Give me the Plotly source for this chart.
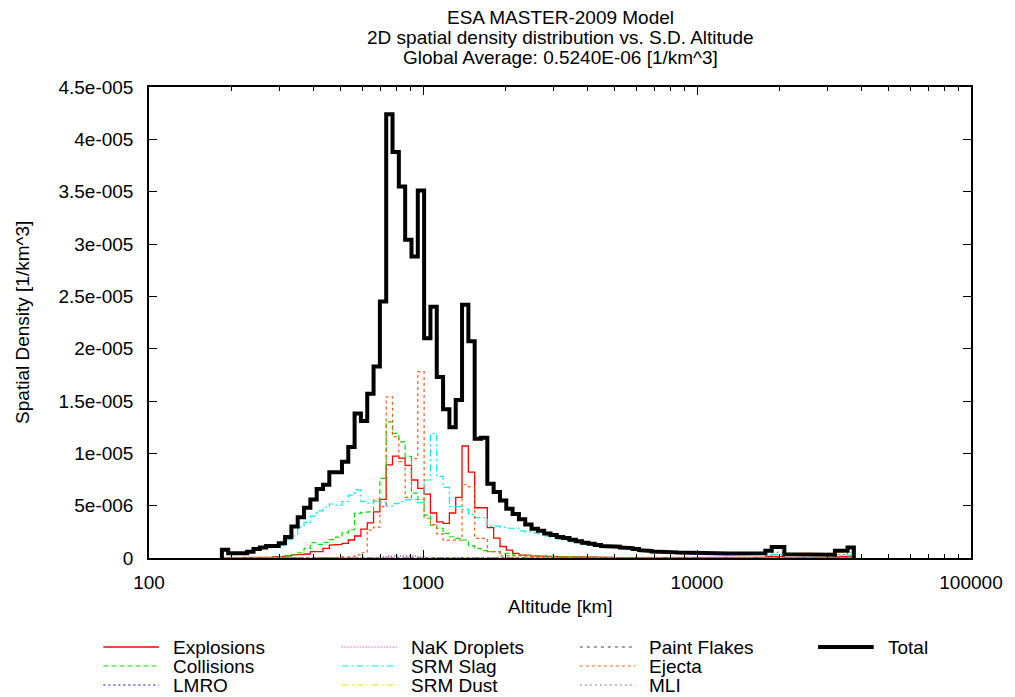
import numpy as np
import plotly.graph_objects as go

# ---------------- data (spatial density in units of 1e-6 per km^3) ----------------
UNIT = 1e-6
ALT_FIRST_EDGE = 184.5      # km, lower edge of first altitude bin
ALT_LAST_EDGE = 37370.0     # km, upper edge of last altitude bin
N_BINS = 100                # log-spaced altitude bins

TOTAL = [
    0.8, 0.45, 0.45, 0.45, 0.6, 0.85, 1.0, 1.15, 1.15, 1.4,
    2.0, 3.0, 3.9, 4.8, 5.6, 6.6, 7.0, 8.2, 8.2, 9.2,
    10.6, 13.8, 13.1, 15.7, 18.3, 24.5, 42.4, 38.8, 35.5, 30.4,
    28.8, 35.1, 21.0, 24.0, 17.3, 14.2, 12.5, 15.1, 24.2, 20.7,
    11.4, 11.5, 7.1, 6.3, 5.5, 4.7, 4.2, 3.7, 3.2, 2.8,
    2.6, 2.35, 2.2, 2.0, 1.9, 1.75, 1.6, 1.45, 1.35, 1.25,
    1.15, 1.1, 1.08, 1.0, 0.95, 0.85, 0.75, 0.68, 0.62, 0.58,
    0.56, 0.54, 0.52, 0.5, 0.5, 0.48, 0.47, 0.46, 0.45, 0.44,
    0.42, 0.41, 0.4, 0.38, 0.38, 0.45, 0.7, 1.05, 1.05, 0.35,
    0.3, 0.3, 0.3, 0.3, 0.3, 0.3, 0.32, 0.7, 0.7, 1.0,
]

EXPLOSIONS = [
    0.02, 0.02, 0.02, 0.02, 0.05, 0.05, 0.05, 0.08, 0.1, 0.15,
    0.2, 0.3, 0.35, 0.38, 0.6, 0.6, 0.92, 1.24, 1.3, 1.4,
    1.72, 2.1, 2.75, 3.35, 4.4, 5.6, 8.9, 9.74, 9.55, 8.85,
    7.45, 6.65, 6.1, 4.3, 3.45, 3.3, 4.3, 5.8, 10.7, 8.2,
    4.8, 4.8, 2.9, 1.9, 1.1, 0.75, 0.45, 0.3, 0.25, 0.2,
    0.17, 0.15, 0.13, 0.12, 0.1, 0.09, 0.08, 0.07, 0.06, 0.05,
    0.05, 0.05, 0.04, 0.04, 0.04, 0.04, 0.03, 0.03, 0.03, 0.03,
    0.03, 0.02, 0.02, 0.02, 0.02, 0.02, 0.02, 0.02, 0.02, 0.02,
    0.02, 0.02, 0.02, 0.02, 0.02, 0.05, 0.15, 0.15, 0.15, 0.02,
    0.02, 0.02, 0.02, 0.02, 0.02, 0.02, 0.02, 0.1, 0.1, 0.15,
]

COLLISIONS = [
    0.02, 0.02, 0.02, 0.02, 0.03, 0.03, 0.04, 0.05, 0.1, 0.15,
    0.2, 0.29, 0.5, 0.92, 1.46, 1.3, 1.5, 1.75, 2.0, 2.4,
    2.7, 4.27, 4.36, 4.42, 5.54, 7.6, 13.0, 11.9, 11.1, 9.7,
    6.2, 5.6, 4.1, 3.15, 2.84, 2.36, 2.03, 1.88, 1.72, 1.15,
    0.92, 0.7, 0.6, 0.6, 0.45, 0.45, 0.29, 0.29, 0.27, 0.22,
    0.2, 0.17, 0.15, 0.13, 0.12, 0.1, 0.08, 0.07, 0.06, 0.05,
    0.05, 0.04, 0.04, 0.03, 0.03, 0.03, 0.03, 0.02, 0.02, 0.02,
    0.02, 0.02, 0.02, 0.02, 0.02, 0.02, 0.01, 0.01, 0.01, 0.01,
    0.01, 0.01, 0.01, 0.01, 0.01, 0.01, 0.01, 0.01, 0.01, 0.01,
    0.01, 0.01, 0.01, 0.01, 0.01, 0.01, 0.01, 0.01, 0.01, 0.01,
]

LMRO = [
    0.0, 0.0, 0.0, 0.0, 0.0, 0.0, 0.0, 0.0, 0.0, 0.0,
    0.0, 0.0, 0.0, 0.0, 0.0, 0.0, 0.0, 0.0, 0.0, 0.0,
    0.0, 0.0, 0.0, 0.0, 0.01, 0.01, 0.02, 0.02, 0.02, 0.02,
    0.02, 0.02, 0.01, 0.01, 0.01, 0.01, 0.01, 0.01, 0.01, 0.01,
    0.0, 0.0, 0.0, 0.0, 0.0, 0.0, 0.0, 0.0, 0.0, 0.0,
    0.0, 0.0, 0.0, 0.0, 0.0, 0.0, 0.0, 0.0, 0.0, 0.0,
    0.0, 0.0, 0.0, 0.0, 0.0, 0.0, 0.0, 0.0, 0.0, 0.0,
    0.0, 0.0, 0.0, 0.0, 0.0, 0.0, 0.0, 0.0, 0.0, 0.0,
    0.0, 0.0, 0.0, 0.0, 0.0, 0.0, 0.0, 0.0, 0.0, 0.0,
    0.0, 0.0, 0.0, 0.0, 0.0, 0.0, 0.0, 0.0, 0.0, 0.0,
]

NAK_DROPLETS = [
    0.0, 0.0, 0.0, 0.0, 0.0, 0.0, 0.0, 0.0, 0.0, 0.0,
    0.0, 0.0, 0.0, 0.0, 0.0, 0.0, 0.0, 0.0, 0.0, 0.0,
    0.0, 0.0, 0.0, 0.0, 0.0, 0.1, 0.18, 0.2, 0.2, 0.2,
    0.18, 0.1, 0.0, 0.0, 0.0, 0.0, 0.0, 0.0, 0.0, 0.0,
    0.0, 0.0, 0.0, 0.0, 0.0, 0.0, 0.0, 0.0, 0.0, 0.0,
    0.0, 0.0, 0.0, 0.0, 0.0, 0.0, 0.0, 0.0, 0.0, 0.0,
    0.0, 0.0, 0.0, 0.0, 0.0, 0.0, 0.0, 0.0, 0.0, 0.0,
    0.0, 0.0, 0.0, 0.0, 0.0, 0.0, 0.0, 0.0, 0.0, 0.0,
    0.0, 0.0, 0.0, 0.0, 0.0, 0.0, 0.0, 0.0, 0.0, 0.0,
    0.0, 0.0, 0.0, 0.0, 0.0, 0.0, 0.0, 0.0, 0.0, 0.0,
]

SRM_SLAG = [
    0.7, 0.4, 0.4, 0.4, 0.5, 0.75, 0.9, 1.0, 1.0, 1.2,
    1.75, 2.1, 2.95, 3.4, 4.0, 4.5, 4.85, 5.16, 5.06, 5.4,
    6.0, 6.5, 5.4, 5.25, 5.4, 5.3, 4.95, 5.2, 5.4, 5.55,
    5.6, 5.3, 7.45, 11.9, 7.8, 6.75, 4.9, 4.9, 4.65, 4.2,
    3.85, 3.85, 3.05, 3.05, 2.95, 2.84, 2.84, 2.6, 2.5, 2.4,
    2.3, 2.1, 2.0, 1.8, 1.7, 1.57, 1.44, 1.3, 1.22, 1.13,
    1.05, 1.0, 0.99, 0.92, 0.87, 0.78, 0.69, 0.62, 0.57, 0.53,
    0.51, 0.5, 0.48, 0.46, 0.46, 0.44, 0.43, 0.42, 0.41, 0.4,
    0.38, 0.37, 0.36, 0.34, 0.34, 0.36, 0.33, 0.33, 0.33, 0.31,
    0.27, 0.27, 0.27, 0.27, 0.27, 0.27, 0.28, 0.27, 0.27, 0.27,
]

SRM_DUST = [
    0.0, 0.0, 0.0, 0.0, 0.0, 0.0, 0.0, 0.0, 0.0, 0.0,
    0.0, 0.0, 0.0, 0.01, 0.01, 0.01, 0.01, 0.01, 0.01, 0.01,
    0.01, 0.01, 0.01, 0.01, 0.01, 0.01, 0.01, 0.01, 0.01, 0.01,
    0.01, 0.01, 0.01, 0.01, 0.01, 0.01, 0.01, 0.01, 0.01, 0.01,
    0.0, 0.0, 0.0, 0.0, 0.0, 0.0, 0.0, 0.0, 0.0, 0.0,
    0.0, 0.0, 0.0, 0.0, 0.0, 0.0, 0.0, 0.0, 0.0, 0.0,
    0.0, 0.0, 0.0, 0.0, 0.0, 0.0, 0.0, 0.0, 0.0, 0.0,
    0.0, 0.0, 0.0, 0.0, 0.0, 0.0, 0.0, 0.0, 0.0, 0.0,
    0.0, 0.0, 0.0, 0.0, 0.0, 0.0, 0.0, 0.0, 0.0, 0.0,
    0.0, 0.0, 0.0, 0.0, 0.0, 0.0, 0.0, 0.0, 0.0, 0.0,
]

PAINT_FLAKES = [
    0.0, 0.0, 0.0, 0.0, 0.0, 0.0, 0.0, 0.0, 0.0, 0.0,
    0.0, 0.01, 0.01, 0.01, 0.02, 0.02, 0.02, 0.03, 0.03, 0.03,
    0.03, 0.04, 0.04, 0.04, 0.05, 0.05, 0.06, 0.06, 0.05, 0.05,
    0.05, 0.05, 0.04, 0.04, 0.04, 0.03, 0.03, 0.03, 0.03, 0.03,
    0.02, 0.02, 0.02, 0.02, 0.02, 0.01, 0.01, 0.01, 0.01, 0.01,
    0.01, 0.01, 0.01, 0.01, 0.01, 0.0, 0.0, 0.0, 0.0, 0.0,
    0.0, 0.0, 0.0, 0.0, 0.0, 0.0, 0.0, 0.0, 0.0, 0.0,
    0.0, 0.0, 0.0, 0.0, 0.0, 0.0, 0.0, 0.0, 0.0, 0.0,
    0.0, 0.0, 0.0, 0.0, 0.0, 0.0, 0.0, 0.0, 0.0, 0.0,
    0.0, 0.0, 0.0, 0.0, 0.0, 0.0, 0.0, 0.0, 0.0, 0.0,
]

EJECTA = [
    0.0, 0.0, 0.0, 0.0, 0.0, 0.0, 0.0, 0.0, 0.0, 0.0,
    0.0, 0.0, 0.0, 0.0, 0.0, 0.0, 0.02, 0.03, 0.05, 0.1,
    0.13, 0.3, 0.5, 2.67, 2.95, 4.9, 15.4, 11.6, 9.2, 5.8,
    9.5, 17.8, 3.8, 3.2, 2.3, 1.7, 1.7, 1.72, 7.0, 6.8,
    1.88, 1.88, 0.6, 0.6, 0.2, 0.2, 0.2, 0.2, 0.12, 0.1,
    0.1, 0.09, 0.08, 0.08, 0.07, 0.07, 0.06, 0.06, 0.05, 0.05,
    0.04, 0.04, 0.04, 0.03, 0.03, 0.03, 0.03, 0.03, 0.03, 0.03,
    0.02, 0.02, 0.02, 0.02, 0.02, 0.02, 0.02, 0.02, 0.02, 0.02,
    0.02, 0.02, 0.02, 0.02, 0.02, 0.02, 0.02, 0.02, 0.02, 0.02,
    0.02, 0.02, 0.02, 0.02, 0.02, 0.02, 0.02, 0.05, 0.05, 0.12,
]

MLI = [
    0.0, 0.0, 0.0, 0.0, 0.0, 0.0, 0.0, 0.0, 0.0, 0.0,
    0.0, 0.0, 0.01, 0.01, 0.01, 0.01, 0.01, 0.01, 0.01, 0.02,
    0.02, 0.02, 0.02, 0.02, 0.02, 0.02, 0.02, 0.02, 0.02, 0.02,
    0.02, 0.02, 0.02, 0.02, 0.02, 0.02, 0.02, 0.02, 0.02, 0.02,
    0.02, 0.02, 0.02, 0.01, 0.01, 0.01, 0.01, 0.01, 0.01, 0.01,
    0.01, 0.01, 0.01, 0.01, 0.01, 0.01, 0.01, 0.01, 0.01, 0.01,
    0.01, 0.01, 0.01, 0.01, 0.01, 0.01, 0.01, 0.01, 0.01, 0.01,
    0.01, 0.01, 0.01, 0.01, 0.01, 0.01, 0.01, 0.01, 0.01, 0.01,
    0.01, 0.01, 0.01, 0.01, 0.01, 0.05, 0.2, 0.55, 0.55, 0.02,
    0.02, 0.02, 0.02, 0.02, 0.02, 0.02, 0.02, 0.32, 0.32, 0.55,
]

X_TICKS = [100, 1000, 10000, 100000]
X_TICK_LABELS = ["100", "1000", "10000", "100000"]
X_MINOR_TICKS = [200, 300, 400, 500, 600, 700, 800, 900,
                 2000, 3000, 4000, 5000, 6000, 7000, 8000, 9000,
                 20000, 30000, 40000, 50000, 60000, 70000, 80000, 90000]
Y_TICKS = [0, 5e-6, 1e-5, 1.5e-5, 2e-5, 2.5e-5, 3e-5, 3.5e-5, 4e-5, 4.5e-5]
Y_TICK_LABELS = ["0", "5e-006", "1e-005", "1.5e-005", "2e-005", "2.5e-005",
                 "3e-005", "3.5e-005", "4e-005", "4.5e-005"]

TITLE_LINES = ["ESA MASTER-2009 Model",
               "2D spatial density distribution vs. S.D. Altitude",
               "Global Average: 0.5240E-06 [1/km^3]"]
X_TITLE = "Altitude [km]"
Y_TITLE = "Spatial Density [1/km^3]"

# name, values, colour, dash, width  (gnuplot plotting order)
SERIES = [
    ("Explosions", EXPLOSIONS, "#FF0000", "solid", 1.3),
    ("Collisions", COLLISIONS, "#00E000", "5px,3px", 1.2),
    ("LMRO", LMRO, "#0000FF", "2px,3px", 1.2),
    ("NaK Droplets", NAK_DROPLETS, "#FF00FF", "1px,2px", 1.2),
    ("SRM Slag", SRM_SLAG, "#00F0F0", "7px,3px,2px,3px", 1.2),
    ("SRM Dust", SRM_DUST, "#E8E800", "7px,3px,2px,3px", 1.2),
    ("Paint Flakes", PAINT_FLAKES, "#404040", "3px,4px", 1.0),
    ("Ejecta", EJECTA, "#FF5A14", "3px,3px", 1.2),
    ("MLI", MLI, "#808080", "2px,3px", 1.0),
    ("Total", TOTAL, "#000000", "solid", 4.0),
]

# ---------------- layout geometry ----------------
FIG_W, FIG_H = 1015, 697
M_L, M_R, M_T, M_B = 149, 38, 87, 139
PLOT_W = FIG_W - M_L - M_R
PLOT_H = FIG_H - M_T - M_B
FONT = "Liberation Sans, Arial, Helvetica, sans-serif"
FS = 19


def paper_x(px):
    return (px - M_L) / PLOT_W


def paper_y(py):
    return (FIG_H - M_B - py) / PLOT_H


edges = np.geomspace(ALT_FIRST_EDGE, ALT_LAST_EDGE, N_BINS + 1)


def step_xy(vals):
    xs = [edges[0]]
    ys = [0.0]
    for k, v in enumerate(vals):
        xs += [edges[k], edges[k + 1]]
        ys += [v * UNIT, v * UNIT]
    xs.append(edges[-1])
    ys.append(0.0)
    return xs, ys


fig = go.Figure()
for name, vals, color, dash, width in SERIES:
    xs, ys = step_xy(vals)
    fig.add_trace(go.Scatter(
        x=xs, y=ys, mode="lines", name=name,
        line=dict(color=color, dash=dash, width=width),
        showlegend=False, hoverinfo="skip",
    ))

annotations = []
shapes = []

# title lines
for i, line in enumerate(TITLE_LINES):
    annotations.append(dict(
        text=line, x=0.5, y=paper_y(17.5 + 20 * i), xref="paper", yref="paper",
        xanchor="center", yanchor="middle", showarrow=False,
        font=dict(family=FONT, size=FS, color="black")))

# axis titles
annotations.append(dict(
    text=X_TITLE, x=0.5, y=paper_y(606), xref="paper", yref="paper",
    xanchor="center", yanchor="middle", showarrow=False,
    font=dict(family=FONT, size=FS, color="black")))
annotations.append(dict(
    text=Y_TITLE, x=paper_x(21), y=paper_y(322), xref="paper", yref="paper",
    xanchor="center", yanchor="middle", showarrow=False, textangle=-90,
    font=dict(family=FONT, size=FS, color="black")))

# legend (4 columns x 3 rows, column-major like gnuplot)
LEG_COL_X = [103, 343, 583, 823]
LEG_SAMPLE_LEN = 56
LEG_TEXT_GAP = 12
LEG_ROW_Y = [647, 666, 685]
for idx, (name, vals, color, dash, width) in enumerate(SERIES):
    col, row = idx // 3, idx % 3
    x0 = LEG_COL_X[col]
    y = LEG_ROW_Y[row]
    shapes.append(dict(
        type="line", xref="paper", yref="paper",
        x0=paper_x(x0), x1=paper_x(x0 + LEG_SAMPLE_LEN),
        y0=paper_y(y), y1=paper_y(y),
        line=dict(color=color, dash=dash, width=width)))
    annotations.append(dict(
        text=name, x=paper_x(x0 + LEG_SAMPLE_LEN + LEG_TEXT_GAP), y=paper_y(y),
        xref="paper", yref="paper", xanchor="left", yanchor="middle",
        showarrow=False, font=dict(family=FONT, size=FS, color="black")))

fig.update_layout(
    width=FIG_W, height=FIG_H,
    margin=dict(l=M_L, r=M_R, t=M_T, b=M_B, pad=0),
    paper_bgcolor="white", plot_bgcolor="white",
    font=dict(family=FONT, size=FS, color="black"),
    showlegend=False,
    annotations=annotations,
    shapes=shapes,
    xaxis=dict(
        type="log", range=[2, 5],
        tickmode="array", tickvals=X_TICKS, ticktext=X_TICK_LABELS,
        ticks="inside", ticklen=8, tickwidth=1, tickcolor="black",
        minor=dict(tickmode="array", tickvals=X_MINOR_TICKS, ticks="inside",
                   ticklen=4, tickwidth=1, tickcolor="black", showgrid=False),
        showline=True, linecolor="black", linewidth=1.5, mirror="ticks",
        showgrid=False, zeroline=False,
        tickfont=dict(family=FONT, size=FS, color="black"),
        ticklabelstandoff=6,
    ),
    yaxis=dict(
        range=[0, 4.5e-5],
        tickmode="array", tickvals=Y_TICKS, ticktext=Y_TICK_LABELS,
        ticks="inside", ticklen=8, tickwidth=1, tickcolor="black",
        showline=True, linecolor="black", linewidth=1.5, mirror="ticks",
        showgrid=False, zeroline=False,
        tickfont=dict(family=FONT, size=FS, color="black"),
        ticklabelstandoff=10,
    ),
)

fig.write_html("out.html")
